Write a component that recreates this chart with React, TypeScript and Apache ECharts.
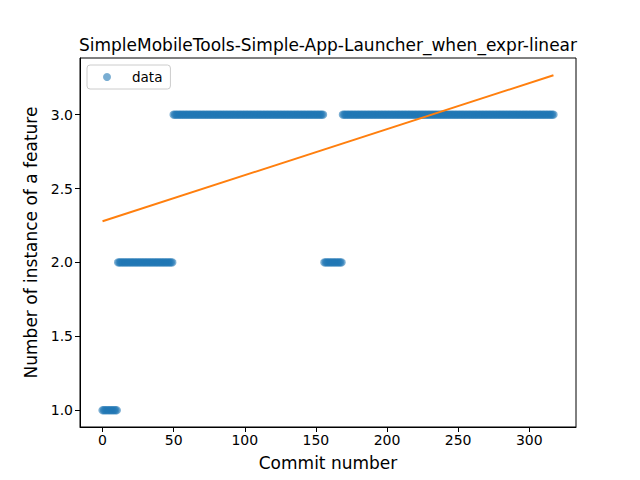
import React, { useEffect, useRef } from "react";
import * as echarts from "echarts";

// Runs of the scatter data (commit numbers 0..317)
const runValues = [1, 2, 3, 2, 3];
const runLengths = [11, 39, 106, 13, 149];

// Linear fit endpoints
const fitX = [0, 317];
const fitY = [2.279, 3.267];

const titleText = "SimpleMobileTools-Simple-App-Launcher_when_expr-linear";
const xLabel = "Commit number";
const yLabel = "Number of instance of a feature";

function buildPoints(): number[][] {
  const pts: number[][] = [];
  let x = 0;
  runValues.forEach((v, i) => {
    for (let k = 0; k < runLengths[i]; k++) {
      pts.push([x, v]);
      x++;
    }
  });
  return pts;
}

export default function App() {
  const ref = useRef<HTMLDivElement>(null);
  useEffect(() => {
    if (!ref.current) return;
    const chart = echarts.init(ref.current, undefined, { renderer: "svg" });
    const points = buildPoints();
    const font = "DejaVu Sans";
    chart.setOption({
      animation: false,
      backgroundColor: "#ffffff",
      textStyle: { fontFamily: font },
      title: {
        text: titleText,
        left: 323,
        textAlign: "center",
        top: 31,
        textStyle: { fontFamily: font, fontSize: 17, fontWeight: "normal", color: "#000" },
      },
      legend: {
        data: [{ name: "data", icon: "circle" }],
        left: 87,
        top: 65,
        orient: "vertical",
        itemWidth: 8,
        itemHeight: 8,
        padding: [5, 8, 5, 16],
        borderColor: "#cccccc",
        borderWidth: 1,
        borderRadius: 3,
        backgroundColor: "#ffffff",
        textStyle: { fontFamily: font, fontSize: 13.5, color: "#000", padding: [0, 0, 0, 16] },
      },
      grid: {
        left: 80,
        right: 64,
        top: 58,
        bottom: 53,
        show: true,
        borderColor: "#000",
        borderWidth: 1,
        backgroundColor: "transparent",
      },
      xAxis: {
        type: "value",
        min: -15.85,
        max: 332.85,
        splitNumber: 7,
        name: xLabel,
        nameLocation: "middle",
        nameGap: 27,
        nameTextStyle: { fontFamily: font, fontSize: 17, color: "#000" },
        axisLine: { show: true, onZero: false, lineStyle: { color: "#000", width: 1 } },
        axisTick: { show: true, inside: false, length: 5, lineStyle: { color: "#000" } },
        axisLabel: {
          showMinLabel: false,
          showMaxLabel: false,
          fontFamily: font,
          fontSize: 14,
          color: "#000",
          margin: 6,
        },
        splitLine: { show: false },
      },
      yAxis: {
        type: "value",
        min: 0.8865,
        max: 3.3835,
        splitNumber: 5,
        name: yLabel,
        nameLocation: "middle",
        nameGap: 41,
        nameRotate: 90,
        nameTextStyle: { fontFamily: font, fontSize: 17, color: "#000" },
        axisLine: { show: true, onZero: false, lineStyle: { color: "#000", width: 1 } },
        axisTick: { show: true, inside: false, length: 5, lineStyle: { color: "#000" } },
        axisLabel: {
          showMinLabel: false,
          showMaxLabel: false,
          fontFamily: font,
          fontSize: 14,
          color: "#000",
          margin: 7,
          formatter: (v: number) => v.toFixed(1),
        },
        splitLine: { show: false },
      },
      series: [
        {
          name: "data",
          type: "scatter",
          data: points,
          symbol: "circle",
          symbolSize: 8.3,
          itemStyle: { color: "#1f77b4", opacity: 0.6 },
          z: 2,
        },
        {
          name: "fit",
          type: "line",
          data: fitX.map((x, i) => [x, fitY[i]]),
          symbol: "none",
          lineStyle: { color: "#ff7f0e", width: 2 },
          z: 3,
        },
      ],
    });
    return () => chart.dispose();
  }, []);
  return (
    <div
      ref={ref}
      style={{ position: "fixed", left: 0, top: 0, width: 640, height: 480 }}
    />
  );
}
